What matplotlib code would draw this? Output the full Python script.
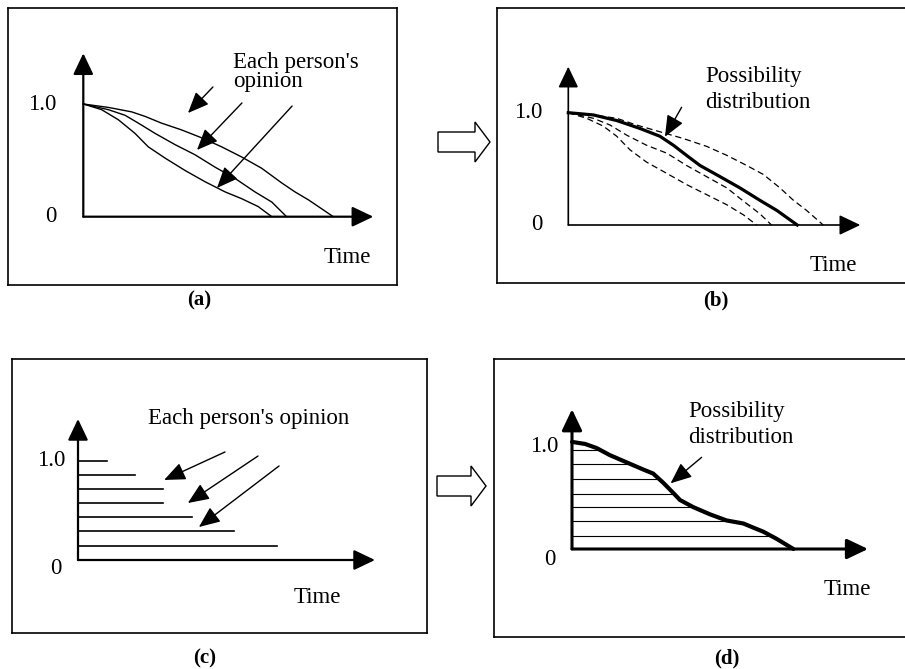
import numpy as np
import matplotlib
matplotlib.use('Agg')
import matplotlib.pyplot as plt
from matplotlib.patches import FancyArrow

plt.rcParams['font.family'] = ['Liberation Serif', 'DejaVu Serif']

# ---- data (time in arbitrary units, opinion value 0..1) ----
# (a) each person's opinion curves
a_t1 = [0, 0.86, 1.67, 2.13, 2.70, 3.39, 4.08, 4.77, 5.46, 6.15, 6.84, 7.30, 7.76, 8.22, 8.62]
a_y1 = [1.0, 0.97, 0.93, 0.89, 0.83, 0.77, 0.70, 0.62, 0.53, 0.43, 0.30, 0.22, 0.15, 0.07, 0.0]
a_t2 = [0, 0.86, 1.44, 1.90, 2.47, 3.16, 3.85, 4.54, 5.23, 5.92, 6.50, 7.01]
a_y2 = [1.0, 0.95, 0.90, 0.83, 0.74, 0.64, 0.55, 0.44, 0.34, 0.22, 0.13, 0.0]
a_t3 = [0, 0.63, 1.21, 1.78, 2.24, 2.82, 3.51, 4.20, 4.89, 5.46, 6.03, 6.50]
a_y3 = [1.0, 0.95, 0.86, 0.74, 0.62, 0.52, 0.41, 0.31, 0.22, 0.16, 0.09, 0.0]

# (b) individual opinions (dashed) and possibility distribution (thick)
b_t1 = [0, 0.86, 1.66, 2.34, 3.14, 3.94, 4.74, 5.43, 6.11, 6.68, 7.25, 7.71, 8.16, 8.73]
b_y1 = [1.0, 0.98, 0.95, 0.89, 0.83, 0.77, 0.70, 0.62, 0.53, 0.45, 0.33, 0.22, 0.13, 0.0]
b_t3 = [0, 0.86, 1.43, 2.00, 2.68, 3.37, 4.05, 4.74, 5.43, 6.11, 6.56, 6.96]
b_y3 = [1.0, 0.95, 0.89, 0.80, 0.71, 0.64, 0.53, 0.43, 0.33, 0.19, 0.10, 0.0]
b_t4 = [0, 0.63, 1.20, 1.66, 2.11, 2.68, 3.37, 4.05, 4.74, 5.43, 6.00, 6.45]
b_y4 = [1.0, 0.95, 0.88, 0.79, 0.67, 0.56, 0.46, 0.36, 0.27, 0.18, 0.09, 0.0]
b_tp = [0, 0.86, 1.66, 2.45, 3.14, 3.60, 4.05, 4.51, 5.20, 5.88, 6.56, 7.14, 7.84]
b_yp = [1.0, 0.98, 0.93, 0.86, 0.79, 0.71, 0.62, 0.53, 0.43, 0.33, 0.22, 0.13, 0.0]

# (c) each person's opinion as interval levels
c_levels = [1.0, 0.856, 0.715, 0.574, 0.43, 0.289, 0.144]
c_ends = [0.98, 1.92, 2.86, 2.86, 3.84, 5.25, 6.70]

# (d) possibility distribution and alpha-cut levels
d_t = [0, 0.44, 0.83, 1.28, 1.84, 2.40, 2.74, 3.08, 3.42, 3.65, 4.10, 4.66, 5.22, 5.79, 6.12, 6.46, 6.91, 7.48]
d_y = [1.05, 1.03, 0.99, 0.92, 0.85, 0.78, 0.74, 0.65, 0.55, 0.48, 0.41, 0.34, 0.28, 0.25, 0.21, 0.17, 0.10, 0.0]
d_levels = [0.97, 0.83, 0.69, 0.54, 0.41, 0.27, 0.13]

W, H = 905, 669
FS = 16.5
fig = plt.figure(figsize=(W / 100, H / 100), dpi=100)

bg = fig.add_axes([0, 0, 1, 1])
bg.set_xlim(0, W)
bg.set_ylim(H, 0)
bg.axis('off')


def panel(frame, origin, sx, sy):
    # frame = (left, top, right, bottom) in pixels, origin = pixel of (0, 0)
    l, t, r, b = frame
    ax = fig.add_axes([l / W, 1 - b / H, (r - l) / W, (b - t) / H])
    ax.set_xlim((l - origin[0]) / sx, (r - origin[0]) / sx)
    ax.set_ylim((origin[1] - b) / sy, (origin[1] - t) / sy)
    ax.set_xticks([])
    ax.set_yticks([])
    for s in ax.spines.values():
        s.set_linewidth(1.2)
    return ax


def axes_arrows(ax, ytop, lw):
    style = '-|>,head_length=1.3,head_width=0.62'
    ax.annotate('', xy=(10, 0), xytext=(0, 0),
                arrowprops=dict(arrowstyle=style, mutation_scale=10, lw=lw,
                                color='black', shrinkA=0, shrinkB=0))
    ax.annotate('', xy=(0, ytop), xytext=(0, 0),
                arrowprops=dict(arrowstyle=style, mutation_scale=10, lw=lw,
                                color='black', shrinkA=0, shrinkB=0))


def pointer(ax, start, tip):
    ax.annotate('', xy=tip, xytext=start,
                arrowprops=dict(arrowstyle='-|>,head_length=1.3,head_width=0.55',
                                mutation_scale=10, lw=1.0, color='black',
                                shrinkA=0, shrinkB=0))


# ---- (a) ----
ax = panel((8, 8, 397, 285), (83.3, 216.7), 29.0, 112.7)
for t, y in [(a_t1, a_y1), (a_t2, a_y2), (a_t3, a_y3)]:
    ax.plot(t, y, color='black', lw=1.0)
axes_arrows(ax, 1.45, 1.6)
ax.text(-0.91, 1.0, '1.0', ha='right', va='center', fontsize=FS)
ax.text(-0.91, 0.0, '0', ha='right', va='center', fontsize=FS)
ax.text(9.11, -0.36, 'Time', ha='center', va='center', fontsize=FS)
ax.text(5.16, 1.317, "Each person's", ha='left', va='baseline', fontsize=FS)
ax.text(5.16, 1.148, 'opinion', ha='left', va='baseline', fontsize=FS)
pointer(ax, (4.47, 1.151), (3.61, 0.92))
pointer(ax, (5.47, 1.009), (3.92, 0.592))
pointer(ax, (7.20, 0.982), (4.61, 0.255))

# ---- (b) ----
ax = panel((497, 8, 915, 283), (568.3, 225), 29.2, 112.3)
for t, y in [(b_t1, b_y1), (b_t3, b_y3), (b_t4, b_y4)]:
    ax.plot(t, y, color='black', lw=0.9, dashes=(5, 3))
ax.plot(b_tp, b_yp, color='black', lw=2.3)
axes_arrows(ax, 1.41, 1.2)
ax.text(-0.87, 1.0, '1.0', ha='right', va='center', fontsize=FS)
ax.text(-0.87, 0.0, '0', ha='right', va='center', fontsize=FS)
ax.text(9.08, -0.36, 'Time', ha='center', va='center', fontsize=FS)
ax.text(4.68, 1.276, 'Possibility', ha='left', va='baseline', fontsize=FS)
ax.text(4.68, 1.04, 'distribution', ha='left', va='baseline', fontsize=FS)
pointer(ax, (3.88, 1.048), (3.31, 0.786))

# ---- (c) ----
ax = panel((12, 359, 427, 633), (78, 560), 29.7, 99.3)
for lev, end in zip(c_levels, c_ends):
    ax.plot([0, end], [lev, lev], color='black', lw=1.2)
axes_arrows(ax, 1.42, 1.6)
ax.text(-0.44, 1.0, '1.0', ha='right', va='center', fontsize=FS)
ax.text(-0.54, -0.09, '0', ha='right', va='center', fontsize=FS)
ax.text(8.05, -0.38, 'Time', ha='center', va='center', fontsize=FS)
ax.text(2.36, 1.37, "Each person's opinion", ha='left', va='baseline', fontsize=FS)
pointer(ax, (4.95, 1.088), (2.90, 0.806))
pointer(ax, (6.06, 1.047), (3.70, 0.574))
pointer(ax, (6.77, 0.947), (4.07, 0.332))

# ---- (d) ----
ax = panel((494, 359, 915, 637), (572, 549), 29.6, 102)
for lev in d_levels:
    end = np.interp(lev, d_y[::-1], d_t[::-1])
    ax.plot([0, end], [lev, lev], color='black', lw=0.8)
ax.plot(d_t, d_y, color='black', lw=3.0, solid_capstyle='round')
axes_arrows(ax, 1.37, 2.2)
ax.text(-0.47, 1.0, '1.0', ha='right', va='center', fontsize=FS)
ax.text(-0.57, -0.1, '0', ha='right', va='center', fontsize=FS)
ax.text(9.31, -0.40, 'Time', ha='center', va='center', fontsize=FS)
ax.text(3.92, 1.29, 'Possibility', ha='left', va='baseline', fontsize=FS)
ax.text(3.92, 1.04, 'distribution', ha='left', va='baseline', fontsize=FS)
pointer(ax, (4.38, 0.899), (3.33, 0.644))

# ---- hollow arrows between panels and captions ----
for x0, yc, length in [(438, 142, 52), (437, 486, 49)]:
    bg.add_patch(FancyArrow(x0, yc, length, 0, width=20, head_width=40,
                            head_length=15, length_includes_head=True,
                            facecolor='white', edgecolor='black', lw=1.0))

for label, x, y in [('(a)', 199, 300), ('(b)', 716, 300), ('(c)', 205, 658), ('(d)', 727, 658)]:
    bg.text(x, y, label, ha='center', va='center', fontsize=15, fontweight='bold')

fig.savefig('out.png', dpi=100)
